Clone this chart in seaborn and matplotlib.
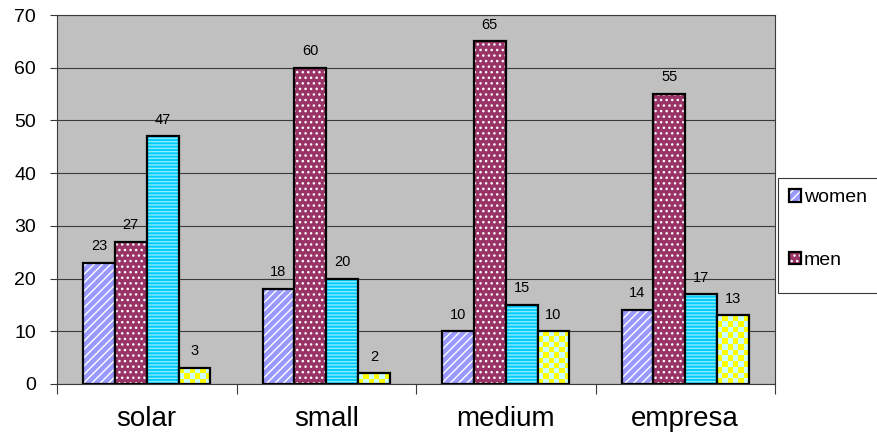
import numpy as np
import pandas as pd
import seaborn as sns
import matplotlib.pyplot as plt
from matplotlib.colors import ListedColormap, to_rgba
from matplotlib.patches import Rectangle

# chart data
sizes = ["solar", "small", "medium", "empresa"]
groups = ["women", "men", "series3", "series4"]
women = [23, 18, 10, 14]
men = [27, 60, 65, 55]
series3 = [47, 20, 15, 17]
series4 = [3, 2, 10, 13]
y_ticks = [0, 10, 20, 30, 40, 50, 60, 70]

df = pd.DataFrame({
    "size": sizes * 4,
    "group": np.repeat(groups, 4),
    "value": women + men + series3 + series4,
})

sns.set_style("white")
plt.rcParams["font.family"] = ["Liberation Sans", "DejaVu Sans"]
plt.rcParams["hatch.linewidth"] = 1.0
plt.rcParams["text.color"] = "black"
plt.rcParams["xtick.labelcolor"] = "black"
plt.rcParams["ytick.labelcolor"] = "black"

fig = plt.figure(figsize=(8.77, 4.42), dpi=100)
ax = fig.add_axes([57 / 877, 1 - 384 / 442, (775 - 57) / 877, (384 - 15) / 442])
ax.set_facecolor("#C0C0C0")

palette = {"women": "#9999FF", "men": "#993366", "series3": "#00CCFF", "series4": "#FFFF00"}
sns.barplot(data=df, x="size", y="value", hue="group", order=sizes, hue_order=groups,
            palette=palette, saturation=1, width=0.71, gap=0, edgecolor="black",
            linewidth=1.6, legend=False, ax=ax)

ax.set_xlim(-0.5, 3.5)
ax.set_ylim(0, 70)
ax.set_yticks(y_ticks)
ax.set_axisbelow(True)
ax.yaxis.grid(True, color="#3a3a3a", linewidth=0.8)
ax.xaxis.grid(False)
for s in ax.spines.values():
    s.set_color("#3a3a3a")
    s.set_linewidth(0.8)

# fill patterns
hatches = ["////", "...", "-----", None]
hatch_cols = ["white", "white", "#8CEBFF", None]
for cont, h, hc in zip(ax.containers, hatches, hatch_cols):
    for p in cont:
        if h:
            p.set_hatch(h)
            p._hatch_color = to_rgba(hc)
    ax.bar_label(cont, padding=7, fontsize=10.5, color="black")

# checkerboard for the last series
checker = ListedColormap(["#FFFF00", "#CCFFFF"])
for p in ax.containers[3]:
    x0, y0 = p.get_x(), p.get_y()
    x1, y1 = x0 + p.get_width(), y0 + p.get_height()
    (px0, py0), (px1, py1) = ax.transData.transform([(x0, y0), (x1, y1)])
    nx = max(1, int(round((px1 - px0) / 5.5)))
    ny = max(1, int(round((py1 - py0) / 5.5)))
    arr = np.indices((ny, nx)).sum(axis=0) % 2
    im = ax.imshow(arr, cmap=checker, extent=(x0, x1, y0, y1), aspect="auto",
                   interpolation="nearest", origin="lower", zorder=p.get_zorder() + 0.1)
    im.set_clip_path(p)
    p.set_facecolor("none")
    p.set_zorder(p.get_zorder() + 0.2)

ax.set_xlim(-0.5, 3.5)
ax.set_ylim(0, 70)

ax.set_xlabel("")
ax.set_ylabel("")
ax.tick_params(axis="y", which="major", left=True, length=5, width=0.8,
               color="#3a3a3a", labelsize=14, pad=10)
ax.tick_params(axis="x", which="major", bottom=False, labelsize=20, pad=12)
ax.set_xticks(np.arange(-0.5, 4, 1), minor=True)
ax.tick_params(axis="x", which="minor", bottom=True, length=7, width=0.8, color="#3a3a3a")

# legend box with only the first two series
fig.add_artist(Rectangle((778 / 877, 1 - 293 / 442), 0.2, (293 - 178) / 442,
                         transform=fig.transFigure, facecolor="white",
                         edgecolor="#3a3a3a", linewidth=0.8))
fig.legend(handles=[ax.containers[0][0], ax.containers[1][0]], labels=["women", "men"],
           loc="upper left", bbox_to_anchor=(789 / 877, 1 - 189 / 442), frameon=False,
           fontsize=14, handlelength=0.62, handleheight=0.62, handletextpad=0.15,
           labelspacing=2.35, borderpad=0, borderaxespad=0)

fig.savefig("out.png", dpi=100)
